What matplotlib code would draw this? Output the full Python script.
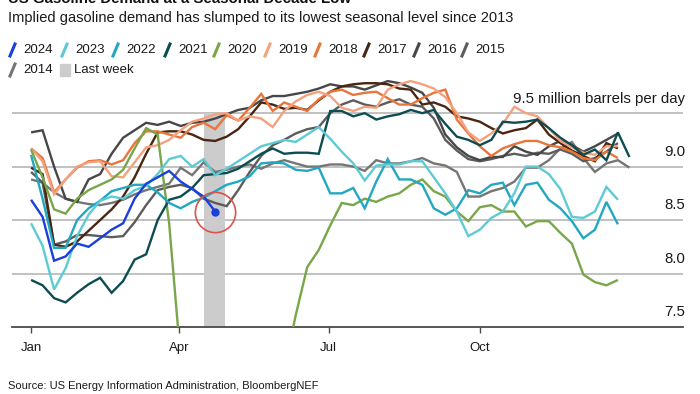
import numpy as np
import matplotlib.pyplot as plt
from matplotlib.lines import Line2D
from matplotlib.patches import Rectangle
import matplotlib.transforms as mtransforms

plt.rcParams['font.family'] = ['Liberation Sans', 'DejaVu Sans']

# weekly implied gasoline demand, million b/d
d2024 = [8.69, 8.53, 8.12, 8.16, 8.28, 8.25, 8.33, 8.41, 8.47, 8.70, 8.84, 8.90,
         8.96, 8.86, 8.79, 8.72, 8.58]
d2023 = [8.47, 8.26, 7.85, 8.05, 8.35, 8.55, 8.68, 8.72, 8.70, 8.78, 8.82, 8.93,
         9.07, 9.10, 9.00, 9.07, 8.92, 8.98, 9.05, 9.12, 9.19, 9.22, 9.25, 9.23,
         9.30, 9.37, 9.26, 9.14, 9.03, 8.87, 9.01, 9.02, 9.02, 9.05, 9.05, 8.90,
         8.75, 8.58, 8.35, 8.41, 8.52, 8.58, 8.75, 9.00, 9.00, 8.93, 8.79, 8.53,
         8.52, 8.58, 8.81, 8.69]
d2022 = [9.11, 8.70, 8.24, 8.24, 8.50, 8.61, 8.68, 8.77, 8.80, 8.83, 8.83, 8.76,
         8.66, 8.61, 8.67, 8.71, 8.77, 8.83, 8.86, 8.91, 9.03, 9.04, 9.03, 8.97,
         8.96, 8.99, 8.75, 8.75, 8.80, 8.61, 8.86, 9.07, 8.88, 8.88, 8.83, 8.61,
         8.55, 8.61, 8.78, 8.75, 8.83, 8.85, 8.64, 8.83, 8.85, 8.69, 8.61, 8.49,
         8.33, 8.41, 8.67, 8.46]
d2021 = [7.94, 7.89, 7.77, 7.73, 7.82, 7.90, 7.96, 7.82, 7.93, 8.13, 8.18, 8.50,
         8.69, 8.72, 8.80, 8.92, 8.93, 8.94, 8.98, 9.05, 9.12, 9.17, 9.12, 9.13,
         9.13, 9.12, 9.52, 9.52, 9.47, 9.50, 9.44, 9.47, 9.49, 9.53, 9.50, 9.53,
         9.40, 9.28, 9.25, 9.20, 9.25, 9.42, 9.41, 9.42, 9.44, 9.36, 9.27, 9.20,
         9.11, 9.16, 9.06, 9.32, 9.09]
d2020 = [9.16, 8.90, 8.60, 8.56, 8.70, 8.78, 8.83, 8.88, 8.97, 9.17, 9.36, 9.30,
         8.47, 7.20, 6.00, 5.60, 5.80, 6.10, 6.40, 6.60, 6.80, 6.90, 7.10, 7.61,
         8.06, 8.22, 8.45, 8.66, 8.64, 8.70, 8.67, 8.72, 8.75, 8.83, 8.88, 8.77,
         8.72, 8.58, 8.49, 8.62, 8.64, 8.58, 8.58, 8.44, 8.49, 8.49, 8.38, 8.28,
         7.99, 7.92, 7.89, 7.94]
d2019 = [9.17, 9.05, 8.74, 8.88, 9.00, 9.04, 9.05, 8.91, 8.90, 9.04, 9.18, 9.20,
         9.25, 9.34, 9.42, 9.45, 9.49, 9.50, 9.43, 9.47, 9.45, 9.37, 9.52, 9.61,
         9.67, 9.70, 9.66, 9.55, 9.52, 9.56, 9.55, 9.72, 9.77, 9.80, 9.77, 9.73,
         9.65, 9.50, 9.32, 9.24, 9.31, 9.40, 9.56, 9.50, 9.47, 9.36, 9.24, 9.18,
         9.13, 9.11, 9.19, 9.19]
d2018 = [9.17, 9.08, 8.76, 8.88, 8.99, 9.05, 9.06, 9.02, 9.06, 9.22, 9.33, 9.33,
         9.30, 9.27, 9.37, 9.41, 9.35, 9.48, 9.43, 9.55, 9.68, 9.52, 9.60, 9.56,
         9.52, 9.63, 9.70, 9.72, 9.67, 9.69, 9.70, 9.64, 9.58, 9.58, 9.64, 9.69,
         9.72, 9.44, 9.31, 9.19, 9.10, 9.17, 9.21, 9.24, 9.24, 9.20, 9.18, 9.14,
         9.08, 9.06, 9.14, 9.08]
d2017 = [8.99, 8.93, 8.27, 8.25, 8.30, 8.40, 8.50, 8.60, 8.72, 8.90, 9.12, 9.32,
         9.33, 9.33, 9.30, 9.25, 9.24, 9.28, 9.35, 9.47, 9.60, 9.58, 9.54, 9.55,
         9.53, 9.62, 9.70, 9.75, 9.77, 9.78, 9.78, 9.77, 9.73, 9.72, 9.58, 9.60,
         9.56, 9.47, 9.45, 9.42, 9.36, 9.31, 9.34, 9.36, 9.44, 9.30, 9.22, 9.15,
         9.10, 9.05, 9.22, 9.17]
d2016 = [9.32, 9.34, 9.00, 8.70, 8.67, 8.88, 8.93, 9.12, 9.27, 9.34, 9.41, 9.39,
         9.42, 9.38, 9.41, 9.42, 9.45, 9.49, 9.53, 9.55, 9.62, 9.66, 9.66, 9.68,
         9.70, 9.73, 9.77, 9.75, 9.75, 9.72, 9.76, 9.80, 9.78, 9.74, 9.69, 9.55,
         9.30, 9.18, 9.10, 9.06, 9.09, 9.09, 9.19, 9.14, 9.11, 9.19, 9.24, 9.20,
         9.14, 9.19, 9.25, 9.31]
d2015 = [8.95, 8.85, 8.27, 8.30, 8.36, 8.36, 8.35, 8.34, 8.35, 8.48, 8.64, 8.78,
         8.81, 8.83, 8.80, 8.70, 8.66, 8.63, 8.78, 8.95, 9.10, 9.20, 9.25, 9.31,
         9.35, 9.37, 9.50, 9.58, 9.62, 9.58, 9.56, 9.60, 9.63, 9.58, 9.56, 9.45,
         9.25, 9.15, 9.07, 9.05, 9.07, 9.10, 9.12, 9.10, 9.13, 9.12, 9.16, 9.12,
         9.05, 9.08, 9.14, 9.22]
d2014 = [8.88, 8.85, 8.76, 8.70, 8.67, 8.65, 8.64, 8.66, 8.69, 8.74, 8.78, 8.81,
         8.84, 8.99, 8.92, 9.04, 8.95, 8.97, 9.00, 9.02, 8.98, 9.03, 9.06, 9.03,
         9.00, 9.00, 9.02, 9.02, 9.00, 8.96, 9.06, 9.03, 9.03, 9.05, 9.08, 9.03,
         9.01, 8.95, 8.72, 8.72, 8.77, 8.80, 8.86, 8.99, 8.99, 9.06, 9.17, 9.23,
         9.08, 8.95, 9.03, 9.06, 8.99]

years = ['2024', '2023', '2022', '2021', '2020', '2019', '2018', '2017',
         '2016', '2015', '2014']
values = [d2024, d2023, d2022, d2021, d2020, d2019, d2018, d2017,
          d2016, d2015, d2014]
colors = ['#1b3fdc', '#5ecbd4', '#22a8c0', '#0d4d52', '#78a649', '#f4a27d',
          '#e8763c', '#4a2511', '#474747', '#5c5c5c', '#757575']

month_days = [0, 90, 181, 273]
month_labels = ['Jan', 'Apr', 'Jul', 'Oct']
y_levels = [7.5, 8.0, 8.5, 9.0, 9.5]
y_texts = ['7.5', '8.0', '8.5', '9.0', '9.5 million barrels per day']

W, H = 700, 394
fig = plt.figure(figsize=(W / 100, H / 100), dpi=100)
ax = fig.add_axes([12 / W, 1 - 327 / H, 671 / W, 247 / H])
ax.set_xlim(-11.6, 396.6)
ax.set_ylim(7.5, 9.81)

# gridlines
for v in y_levels[1:]:
    ax.axhline(v, color='#b0b0b0', lw=1.1, zorder=0.5)

# last week band around the newest 2024 point
last_day = (len(d2024) - 1) * 7
last_val = d2024[-1]
ax.add_patch(Rectangle((last_day - 7, 7.5), 13, 2.0, color='#cccccc',
                       lw=0, zorder=1))

# series, oldest first so 2024 is on top
for i in range(len(years) - 1, -1, -1):
    vals = values[i]
    x = np.arange(len(vals)) * 7
    ax.plot(x, vals, color=colors[i], lw=1.7, zorder=2 + (len(years) - i) * 0.1,
            solid_joinstyle='miter', solid_capstyle='butt')

ax.plot(last_day, last_val, 'o', ms=5, color=colors[0], zorder=5)
ax.plot(last_day, last_val, 'o', ms=29, mfc='none', mec='#d9534f', mew=1.2,
        zorder=5)

# axes styling
for s in ['top', 'right', 'left']:
    ax.spines[s].set_visible(False)
ax.spines['bottom'].set_color('#4a4a4a')
ax.spines['bottom'].set_linewidth(1.3)
ax.set_yticks([])
ax.set_xticks(month_days)
ax.set_xticklabels(month_labels)
ax.tick_params(axis='x', length=4, width=1, color='#4a4a4a', pad=7,
               labelsize=9.5, labelcolor='#1a1a1a')

trans = mtransforms.blended_transform_factory(ax.transAxes, ax.transData)
for v, t in zip(y_levels, y_texts):
    ax.annotate(t, (1.003, v), xycoords=trans, xytext=(0, 5.5),
                textcoords='offset points', ha='right', va='bottom',
                fontsize=10.8, color='#1a1a1a')

# titles (the headline is cropped at the top edge, as in the source image)
fig.text(8 / W, 1 - 3 / H, 'US Gasoline Demand at a Seasonal Decade Low',
         fontsize=10.8, fontweight='bold', va='baseline', color='#111111')
fig.text(8 / W, 1 - 18 / H,
         'Implied gasoline demand has slumped to its lowest seasonal level since 2013',
         fontsize=10.5, va='center', color='#1a1a1a')

# legend drawn by hand: slanted strokes + labels
slash_x = [10, 62, 113, 165, 214, 265, 315, 364, 414, 462, 10]
slash_y = [50, 50, 50, 50, 50, 50, 50, 50, 50, 50, 70]
for i, yr in enumerate(years):
    x0, yc = slash_x[i], slash_y[i]
    fig.add_artist(Line2D([(x0) / W, (x0 + 5) / W],
                          [1 - (yc + 6) / H, 1 - (yc - 6) / H],
                          color=colors[i], lw=2.2))
    fig.text((x0 + 13) / W, 1 - yc / H, yr, fontsize=9.5, va='center',
             color='#1a1a1a')
fig.add_artist(Rectangle((60 / W, 1 - 76 / H), 10 / W, 12 / H,
                         color='#cccccc', transform=fig.transFigure))
fig.text(74 / W, 1 - 70 / H, 'Last week', fontsize=9.5, va='center',
         color='#1a1a1a')

fig.text(8 / W, 1 - 386 / H,
         'Source: US Energy Information Administration, BloombergNEF',
         fontsize=8.0, va='center', color='#1a1a1a')

fig.savefig('out.png', dpi=100)
